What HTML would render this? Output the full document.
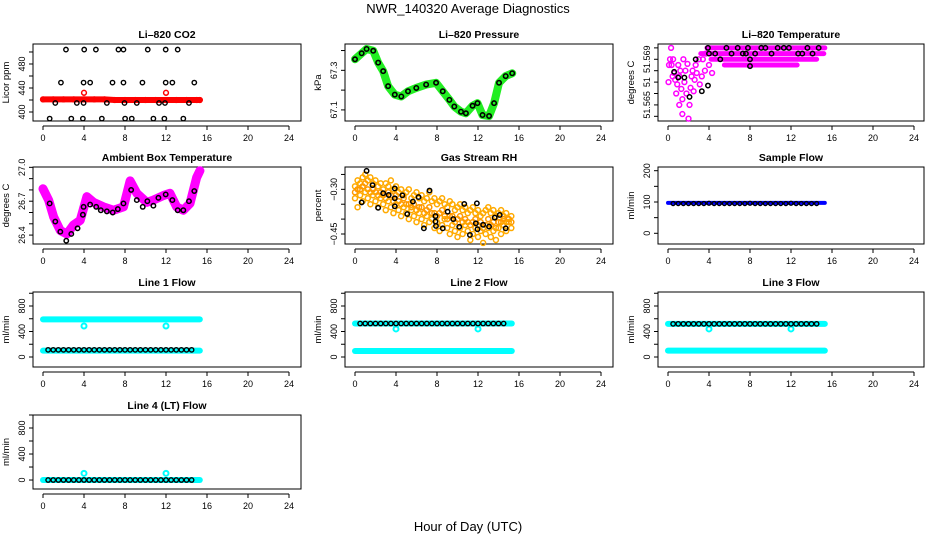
<!DOCTYPE html>
<html><head><meta charset="utf-8"><title>NWR_140320 Average Diagnostics</title>
<style>
html,body{margin:0;padding:0;background:#fff;}
svg{display:block;font-family:"Liberation Sans",sans-serif;}
</style></head>
<body>
<svg id="chart" width="936" height="540" viewBox="0 0 936 540" xmlns="http://www.w3.org/2000/svg">
<text x="468" y="13" text-anchor="middle" font-size="13">NWR_140320  Average Diagnostics</text>
<text x="468" y="531" text-anchor="middle" font-size="13">Hour of Day (UTC)</text>
</svg>
<script>
// ---------- data ----------
const xTicks = [0,4,8,12,16,20,24];

// CO2
const co2BandH = [0,1,2,3,4,5,6,7,8,9,10,11,12,13,14,15,15.3];
const co2BandV = [421,421,421,421,421,421,421,420,420,420,420,420,420,420,420,420,420];
const co2RedOutH = [4,12];
const co2RedOutV = [432,432];
const co2BlkH = [2.24,4.02,5.16,7.36,7.85,10.22,11.97,13.14, 1.75,3.96,4.6,6.78,7.85,9.7,11.97,12.62,14.76, 1.2,3.3,3.96,6.23,7.95,9.15,11.32,11.9,14.24, 0.65,2.76,3.89,5.74,8.01,8.66,10.77,11.84,13.69];
const co2BlkV = [504,504,504,504,504,504,504,504, 449,449,449,449,449,449,449,449,449, 415,415,415,415,415,415,415,415,415, 389,389,389,389,389,389,389,389,389];

// Pressure
const presH = [0,0.65,1.13,1.78,2.26,2.75,3.23,3.88,4.52,5.17,5.98,6.94,7.91,8.56,9.21,9.69,10.34,10.82,11.47,11.95,12.44,13.08,13.57,14.05,14.7,15.34];
const presV = [67.356,67.386,67.408,67.399,67.339,67.296,67.22,67.177,67.168,67.194,67.211,67.228,67.237,67.194,67.151,67.117,67.091,67.083,67.121,67.134,67.074,67.069,67.134,67.237,67.271,67.285];

// Li-820 Temperature
const ltCloudH = [0.05,0.2,0.3,0.35,0.5,0.6,0.7,0.8,0.9,1.0,1.1,1.2,1.3,1.4,1.4,1.5,1.6,1.7,1.8,1.9,2.0,2.1,2.2,2.3,2.4,2.5,2.6,2.7,2.8,3.0,3.1,3.3,3.4,3.6,3.7,4.0,4.3,0.1,0.45,1.1];
const ltCloudV = [51.567,51.569,51.57,51.5685,51.569,51.5678,51.5672,51.566,51.5668,51.5685,51.5675,51.568,51.5664,51.5655,51.5642,51.569,51.567,51.568,51.566,51.5686,51.5638,51.565,51.5665,51.5675,51.568,51.5662,51.5672,51.5685,51.5678,51.569,51.5668,51.5675,51.569,51.568,51.5695,51.5685,51.5678,51.5685,51.5675,51.565];
const ltRowV = [51.5700,51.5695,51.5690,51.5685];
const ltRowStart = [3.8,3.2,4.2,5.5];
const ltRowEnd = [15.3,15.2,14.5,12.6];
const ltBlkH = [0.6,1.0,1.6,2.1,2.7,3.3,3.9,3.9,4.0,4.6,5.1,5.7,6.2,6.8,7.3,7.8,7.6,8.0,8.0,8.5,9.1,9.5,10.1,10.7,11.3,11.8,12.7,13.1,13.6,14.1,14.7];
const ltBlkV = [51.5679,51.5674,51.5674,51.5657,51.569,51.5662,51.5667,51.57,51.5695,51.5695,51.569,51.57,51.5695,51.57,51.5695,51.57,51.5695,51.569,51.5684,51.5695,51.57,51.57,51.5695,51.57,51.57,51.57,51.5695,51.5695,51.57,51.5695,51.57];

// Ambient box temperature
const ambH = [0,0.55,1.04,1.69,2.34,2.98,3.63,4.28,4.93,5.9,6.88,7.85,8.5,9.15,10.12,10.77,11.74,12.39,13.04,13.69,14.34,14.99,15.31];
const ambV = [26.81,26.71,26.56,26.44,26.41,26.49,26.53,26.74,26.69,26.65,26.62,26.65,26.88,26.77,26.69,26.71,26.75,26.77,26.65,26.62,26.68,26.91,26.97];
const ambBlkH = [0.65,1.2,1.69,2.27,2.76,3.37,3.89,3.96,4.6,5.19,5.64,6.23,6.8,7.3,7.85,8.6,9.15,9.73,10.18,10.77,11.26,11.97,12.62,13.14,13.69,14.24,14.76];
const ambBlkV = [26.68,26.52,26.43,26.35,26.41,26.46,26.58,26.65,26.67,26.65,26.62,26.61,26.6,26.63,26.68,26.8,26.71,26.65,26.7,26.66,26.73,26.76,26.71,26.62,26.62,26.7,26.79];

// Gas stream RH
const rhH = [0,0.25,0.5,0.75,1,1.25,1.5,1.75,2,2.25,2.5,2.75,3,3.25,3.5,3.75,4,4.25,4.5,4.75,5,5.25,5.5,5.75,6,6.25,6.5,6.75,7,7.25,7.5,7.75,8,8.25,8.5,8.75,9,9.25,9.5,9.75,10,10.25,10.5,10.75,11,11.25,11.5,11.75,12,12.25,12.5,12.75,13,13.25,13.5,13.75,14,14.25,14.5,14.75,15,15.25];
const rhUp = [-0.29,-0.27,-0.28,-0.26,-0.25,-0.27,-0.26,-0.28,-0.27,-0.29,-0.28,-0.30,-0.28,-0.29,-0.27,-0.30,-0.29,-0.31,-0.30,-0.32,-0.31,-0.30,-0.33,-0.32,-0.31,-0.33,-0.32,-0.34,-0.33,-0.31,-0.34,-0.33,-0.35,-0.34,-0.33,-0.35,-0.36,-0.34,-0.35,-0.37,-0.36,-0.35,-0.37,-0.36,-0.38,-0.37,-0.36,-0.38,-0.37,-0.39,-0.38,-0.37,-0.36,-0.38,-0.37,-0.39,-0.38,-0.37,-0.39,-0.38,-0.40,-0.39];
const rhMid = [-0.31,-0.30,-0.30,-0.29,-0.28,-0.30,-0.31,-0.30,-0.31,-0.32,-0.31,-0.32,-0.33,-0.31,-0.32,-0.34,-0.32,-0.34,-0.35,-0.33,-0.35,-0.35,-0.36,-0.35,-0.37,-0.36,-0.36,-0.38,-0.37,-0.36,-0.38,-0.38,-0.39,-0.38,-0.37,-0.39,-0.40,-0.39,-0.39,-0.41,-0.40,-0.39,-0.41,-0.40,-0.41,-0.42,-0.41,-0.40,-0.42,-0.41,-0.43,-0.42,-0.40,-0.42,-0.41,-0.43,-0.41,-0.41,-0.40,-0.41,-0.40,-0.41];
const rhLo = [-0.33,-0.36,-0.32,-0.34,-0.31,-0.33,-0.35,-0.32,-0.34,-0.36,-0.33,-0.35,-0.37,-0.34,-0.36,-0.38,-0.35,-0.37,-0.39,-0.36,-0.38,-0.40,-0.37,-0.39,-0.41,-0.38,-0.40,-0.42,-0.39,-0.41,-0.40,-0.43,-0.41,-0.44,-0.42,-0.40,-0.43,-0.45,-0.42,-0.44,-0.46,-0.43,-0.45,-0.42,-0.44,-0.47,-0.45,-0.43,-0.46,-0.44,-0.48,-0.45,-0.43,-0.46,-0.44,-0.47,-0.43,-0.45,-0.42,-0.44,-0.41,-0.43];
const rhBlkH = [1.13,1.71,0.65,2.26,2.75,3.29,3.88,3.88,3.88,4.62,5.1,5.65,6.2,6.72,7.27,7.85,7.85,7.9,8.56,9.04,9.59,10.17,10.66,11.21,11.79,11.89,11.95,12.5,13.08,13.63,14.12,14.7];
const rhBlkV = [-0.238,-0.286,-0.344,-0.362,-0.313,-0.319,-0.297,-0.33,-0.357,-0.32,-0.383,-0.341,-0.326,-0.431,-0.304,-0.39,-0.408,-0.423,-0.431,-0.375,-0.40,-0.426,-0.349,-0.453,-0.414,-0.347,-0.434,-0.419,-0.425,-0.395,-0.386,-0.431];

// Flows
const sfBandH = [0,5,10,15.3];
const sfBandV = [97,97,97,97];
const flowBlkH = [0.5,1,1.5,2,2.5,3,3.5,4,4.5,5,5.5,6,6.5,7,7.5,8,8.5,9,9.5,10,10.5,11,11.5,12,12.5,13,13.5,14,14.5];
const sfBlkV = [95,95,95,95,95,95,95,96,95,95,95,95,95,95,95,96,95,95,95,95,95,95,95,96,95,95,95,95,95];
const bandEndsH = [0,15.3];
const l1HighV = [590,590];
const l1LowV = [99,99];
const l1OutH = [4,12];
const l1OutV = [486,486];
const l1BlkV = [112,112,112,112,112,112,112,112,112,112,112,112,112,112,112,112,112,112,112,112,112,112,112,112,112,112,112,112,112];
const l2HighV = [525,525];
const l2LowV = [94,94];
const l2OutH = [4,12];
const l2OutV = [440,440];
const l2BlkV = [525,525,525,525,525,525,525,525,525,525,525,525,525,525,525,525,525,525,525,525,525,525,525,525,525,525,525,525,525];
const l3HighV = [520,520];
const l3LowV = [100,100];
const l3OutH = [4,12];
const l3OutV = [440,440];
const l3BlkV = [520,520,520,520,520,520,520,520,520,520,520,520,520,520,520,520,520,520,520,520,520,520,520,520,520,520,520,520,520];
const l4BandV = [0,0];
const l4OutH = [4,12];
const l4OutV = [103,103];
const l4BlkV = [0,0,0,0,0,0,0,0,0,0,0,0,0,0,0,0,0,0,0,0,0,0,0,0,0,0,0,0,0];

// ---------- layout ----------
const NS = "http://www.w3.org/2000/svg";
const svg = document.getElementById('chart');
const colX0 = [43,355,668], boxL = [33,345,658], boxR = [301,613,924];
const hourPx = 10.25;
const rowTop = [44,167,292,415], rowBot = [121,244,367,489];

function mk(tag, attrs, parent){
  const e = document.createElementNS(NS, tag);
  for (const k in attrs) e.setAttribute(k, attrs[k]);
  (parent||svg).appendChild(e);
  return e;
}

function makePanel(col,row,title,ylab,ymin,ymax,ticks,labels,labelText,name){
  const g = mk('g',{});
  
  
  const L=boxL[col], R=boxR[col], T=rowTop[row], B=rowBot[row];
  const sx = h => colX0[col] + h*hourPx;
  const sy = v => B - (v-ymin)/(ymax-ymin)*(B-T);
  const frame = mk('rect',{x:L,y:T,width:R-L,height:B-T,fill:'none',stroke:'#000','stroke-width':1},g);
  
  
  const t = mk('text',{x:(L+R)/2,y:T-6,'text-anchor':'middle','font-size':10.5,'font-weight':'bold'},g);
  t.textContent = title;
  
  
  const xa = mk('g',{},g);
  
  
  const ay = B+5;
  mk('line',{x1:sx(0),x2:sx(24),y1:ay,y2:ay,stroke:'#000'},xa);
  xTicks.forEach(v=>{
    mk('line',{x1:sx(v),x2:sx(v),y1:ay,y2:ay+4,stroke:'#000'},xa);
    const tl = mk('text',{x:sx(v),y:ay+15,'text-anchor':'middle','font-size':9},xa);
    tl.textContent = v;
    
    
  });
  const ya = mk('g',{},g);
  
  
  ticks.forEach(v=>{ mk('line',{x1:L-4,x2:L,y1:sy(v),y2:sy(v),stroke:'#000'},ya); });
  labels.forEach((v,i)=>{
    const yy = sy(v), xx = L-8;
    const tl = mk('text',{x:xx,y:yy,'text-anchor':'middle','font-size':9,transform:`rotate(-90 ${xx} ${yy})`},ya);
    tl.textContent = labelText[i];
    
    
  });
  const ylx = L-24, yly = (T+B)/2;
  const yl = mk('text',{x:ylx,y:yly,'text-anchor':'middle','font-size':9.5,transform:`rotate(-90 ${ylx} ${yly})`},g);
  yl.textContent = ylab;
  
  
  const plot = mk('g',{},g);
  
  
  return {g:plot,sx,sy};
}

function band(p,H,V,color,w,name){
  let d='';
  for(let i=0;i<Math.min(H.length,V.length);i++) d += (i?'L':'M')+p.sx(H[i])+','+p.sy(V[i]);
  const e = mk('path',{d,fill:'none',stroke:color,'stroke-width':w,'stroke-linecap':'round','stroke-linejoin':'round'},p.g);
  
  
}
function pts(p,H,V,color,name,r,sw){
  for(let i=0;i<Math.min(H.length,V.length);i++){
    if(V[i]===undefined) continue;
    const c = mk('circle',{cx:p.sx(H[i]),cy:p.sy(V[i]),r:r||2.4,fill:'none',stroke:color,'stroke-width':sw||1.5},p.g);
    
    
  }
}

let p = makePanel(0,0,'Li\u2013820 CO2','Licor ppm',385,513.3,[400,420,440,460,480,500],[400,440,480],['400','440','480'],'co2');
band(p,co2BandH,co2BandV,'#ff0000',6,'co2-red-band');
pts(p,co2BandH,co2BandV,'#ff0000','co2-red-point');
pts(p,co2RedOutH,co2RedOutV,'#ff0000','co2-red-outlier');
pts(p,co2BlkH,co2BlkV,'#000','co2-black-point',2.2,1.4);

p = makePanel(1,0,'Li\u2013820 Pressure','kPa',67.044,67.433,[67.1,67.2,67.3,67.4],[67.1,67.3],['67.1','67.3'],'pressure');
band(p,presH,presV,'#22ee22',8,'pressure-green-band');
pts(p,presH,presV,'#000','pressure-black-point',2.2,1.6);

p = makePanel(2,0,'Li\u2013820 Temperature','degrees C',51.56359,51.57034,[51.564,51.565,51.566,51.567,51.568,51.569,51.570],[51.565,51.567,51.569],['51.565','51','51.569'],'li-temperature');
ltRowV.forEach((v,i)=>band(p,[ltRowStart[i],ltRowEnd[i]],[v,v],'#ff00ff',5,'li-temp-magenta-row'));
pts(p,ltCloudH,ltCloudV,'#ff00ff','li-temp-magenta-point');
pts(p,ltBlkH,ltBlkV,'#000','li-temp-black-point',2.2,1.5);

p = makePanel(0,1,'Ambient Box Temperature','degrees C',26.321,27.003,[26.4,26.5,26.6,26.7,26.8,26.9,27.0],[26.4,26.7,27.0],['26.4','26.7','27.0'],'ambient');
band(p,ambH,ambV,'#ff00ff',9,'ambient-magenta-band');
pts(p,ambH,ambV,'#ff00ff','ambient-magenta-point',3);
pts(p,ambBlkH,ambBlkV,'#000','ambient-black-point',2.2,1.5);

p = makePanel(1,1,'Gas Stream RH','percent',-0.4836,-0.225,[-0.25,-0.30,-0.35,-0.40,-0.45],[-0.30,-0.45],['\u22120.30','\u22120.45'],'rh');
pts(p,rhH,rhUp,'#ffaa00','rh-orange-point',2.5,1.5);
pts(p,rhH,rhMid,'#ff9900','rh-orange-point',2.5,1.5);
pts(p,rhH,rhLo,'#ffaa00','rh-orange-point',2.5,1.5);
pts(p,rhBlkH,rhBlkV,'#000','rh-black-point',2.2,1.5);

p = makePanel(2,1,'Sample Flow','ml/min',-34.2,211.8,[0,50,100,150,200],[0,100,200],['0','100','200'],'sample-flow');
band(p,sfBandH,sfBandV,'#0000ff',4,'sample-flow-blue-band');
pts(p,flowBlkH,sfBlkV,'#000','sample-flow-black-point',2,1.3);

const fT=[0,200,400,600,800,1000], fL=[0,400,800], fLT=['0','400','800'];
p = makePanel(0,2,'Line 1 Flow','ml/min',-156.9,1019.6,fT,fL,fLT,'line1-flow');
band(p,bandEndsH,l1HighV,'#00ffff',6,'line1-cyan-high');
band(p,bandEndsH,l1LowV,'#00ffff',6,'line1-cyan-low');
pts(p,l1OutH,l1OutV,'#00ffff','line1-outlier',2.5,2);
pts(p,flowBlkH,l1BlkV,'#000','line1-black-point',2.2,1.4);
p = makePanel(1,2,'Line 2 Flow','ml/min',-156.9,1019.6,fT,fL,fLT,'line2-flow');
band(p,bandEndsH,l2HighV,'#00ffff',6,'line2-cyan-high');
band(p,bandEndsH,l2LowV,'#00ffff',6,'line2-cyan-low');
pts(p,l2OutH,l2OutV,'#00ffff','line2-outlier',2.5,2);
pts(p,flowBlkH,l2BlkV,'#000','line2-black-point',2.2,1.4);
p = makePanel(2,2,'Line 3 Flow','ml/min',-156.9,1019.6,fT,fL,fLT,'line3-flow');
band(p,bandEndsH,l3HighV,'#00ffff',6,'line3-cyan-high');
band(p,bandEndsH,l3LowV,'#00ffff',6,'line3-cyan-low');
pts(p,l3OutH,l3OutV,'#00ffff','line3-outlier',2.5,2);
pts(p,flowBlkH,l3BlkV,'#000','line3-black-point',2.2,1.4);
p = makePanel(0,3,'Line 4 (LT) Flow','ml/min',-138,1000,fT,fL,fLT,'line4-flow');
band(p,bandEndsH,l4BandV,'#00ffff',6,'line4-cyan-band');
pts(p,l4OutH,l4OutV,'#00ffff','line4-outlier',2.5,2);
pts(p,flowBlkH,l4BlkV,'#000','line4-black-point',2.2,1.4);
</script>
</body></html>
